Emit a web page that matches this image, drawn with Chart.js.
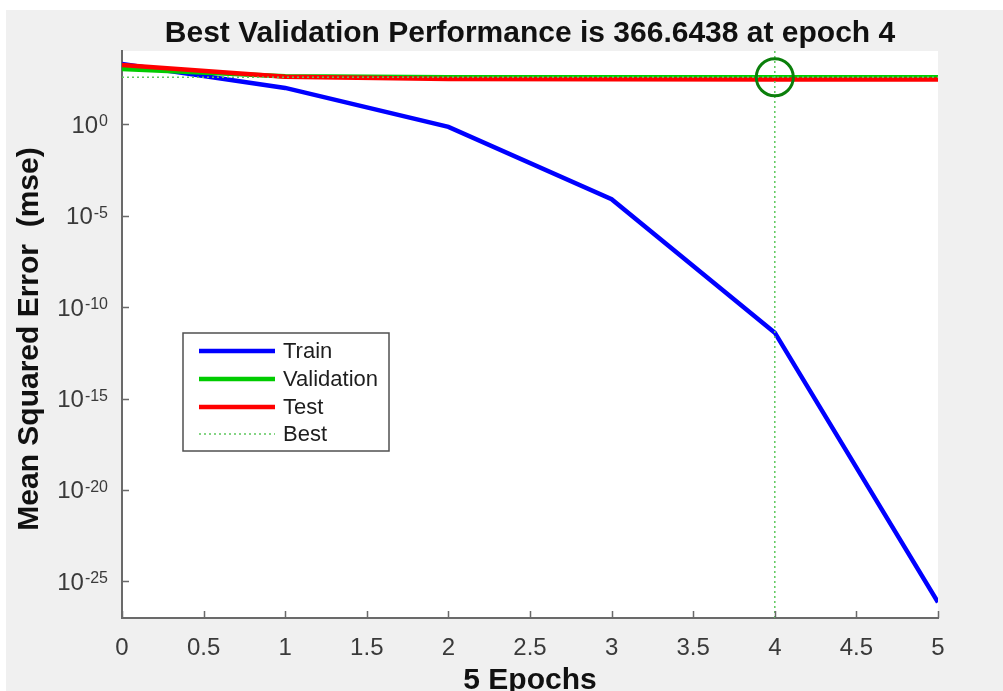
<!DOCTYPE html>
<html>
<head>
<meta charset="utf-8">
<script src="https://cdn.jsdelivr.net/npm/chart.js@4/dist/chart.umd.min.js"></script>
<style>
  html, body { margin: 0; padding: 0; background: #ffffff; overflow: hidden; }
  #wrap { width: 1003px; height: 691px; position: relative; }
</style>
</head>
<body>
<div id="wrap"><canvas id="perf" width="1003" height="691"></canvas></div>
<script>
// Training record: mean squared error per epoch
const epochs = [0, 1, 2, 3, 4, 5];
const trainMse = [1960, 96, 0.71, 7.9e-5, 4.0e-12, 7.2e-27];
const validationMse = [1050, 420, 372, 368, 366.6438, 368];
const testMse = [1730, 390, 290, 282, 280, 279];

const bestEpoch = 4;
const bestPerf = 366.6438;

// Axis limits and tick marks
const xLimits = [0, 5];
const yLimits = [1e-27, 1e4];
const xTicks = [0, 0.5, 1, 1.5, 2, 2.5, 3, 3.5, 4, 4.5, 5];
const xTickLabels = ['0', '0.5', '1', '1.5', '2', '2.5', '3', '3.5', '4', '4.5', '5'];
const yTickExponents = [0, -5, -10, -15, -20, -25];

const titleText = 'Best Validation Performance is ' + bestPerf.toFixed(4) + ' at epoch ' + bestEpoch;
const xTitle = '5 Epochs';
const yTitle = 'Mean Squared Error  (mse)';
const legendOrder = ['Train', 'Validation', 'Test', 'Best'];

const FONT = '"Liberation Sans", Arial, Helvetica, sans-serif';
const toPoints = vals => epochs.map((e, i) => ({ x: e, y: vals[i] }));

// Figure background, axes frame, ticks, text and legend
const figure = {
  id: 'figure',
  beforeDraw(chart) {
    const { ctx, chartArea: a, width, height } = chart;
    ctx.save();
    ctx.fillStyle = '#ffffff';
    ctx.fillRect(0, 0, width, height);
    ctx.fillStyle = '#f0f0f0';
    ctx.fillRect(6, 10, width - 6, height - 10);
    ctx.fillStyle = '#ffffff';
    ctx.fillRect(a.left, a.top, a.right - a.left, a.bottom - a.top);
    ctx.restore();
  },
  afterDraw(chart) {
    const { ctx, chartArea: a } = chart;
    const xs = chart.scales.x, ys = chart.scales.y;
    ctx.save();

    // inward tick marks
    ctx.strokeStyle = '#6a6a6a';
    ctx.lineWidth = 1.5;
    ctx.beginPath();
    xTicks.forEach(v => {
      const px = Math.round(xs.getPixelForValue(v)) + 0.5;
      ctx.moveTo(px, a.bottom);
      ctx.lineTo(px, a.bottom - 7);
    });
    yTickExponents.forEach(e => {
      const py = Math.round(ys.getPixelForValue(Math.pow(10, e))) + 0.5;
      ctx.moveTo(a.left, py);
      ctx.lineTo(a.left + 7, py);
    });
    ctx.stroke();

    // x tick labels
    ctx.fillStyle = '#3a3a3a';
    ctx.font = '24px ' + FONT;
    ctx.textAlign = 'center';
    ctx.textBaseline = 'alphabetic';
    xTicks.forEach((v, i) => {
      ctx.fillText(xTickLabels[i], xs.getPixelForValue(v), 655);
    });

    // y tick labels: 10 with a raised exponent
    const baseFont = '24px ' + FONT, supFont = '16px ' + FONT;
    const rightEdge = 108;
    ctx.textAlign = 'left';
    yTickExponents.forEach(e => {
      const py = ys.getPixelForValue(Math.pow(10, e));
      const exp = String(e);
      ctx.font = supFont;
      const wE = ctx.measureText(exp).width;
      ctx.font = baseFont;
      const wB = ctx.measureText('10').width;
      ctx.fillText('10', rightEdge - wE - wB - 1, py + 8.5);
      ctx.font = supFont;
      ctx.fillText(exp, rightEdge - wE, py + 2);
    });

    // title and axis titles
    ctx.fillStyle = '#111111';
    ctx.font = 'bold 30px ' + FONT;
    ctx.textAlign = 'center';
    const cx = (a.left + a.right) / 2;
    ctx.fillText(titleText, cx, 42);
    ctx.fillText(xTitle, cx, 689);
    ctx.save();
    ctx.translate(38, 339);
    ctx.rotate(-Math.PI / 2);
    ctx.fillText(yTitle, 0, 0);
    ctx.restore();

    // legend box
    const box = { x: 183, y: 333, w: 206, h: 118 };
    ctx.fillStyle = '#ffffff';
    ctx.fillRect(box.x, box.y, box.w, box.h);
    ctx.strokeStyle = '#505050';
    ctx.lineWidth = 1.5;
    ctx.strokeRect(box.x, box.y, box.w, box.h);
    const rowY = [351, 379, 407, 434];
    ctx.font = '22px ' + FONT;
    ctx.textAlign = 'left';
    ctx.textBaseline = 'middle';
    legendOrder.forEach((name, i) => {
      const ds = chart.data.datasets.find(d => d.label === name);
      ctx.save();
      ctx.strokeStyle = ds.borderColor;
      ctx.lineWidth = ds.borderWidth;
      ctx.setLineDash(ds.borderDash || []);
      ctx.beginPath();
      ctx.moveTo(199, rowY[i]);
      ctx.lineTo(275, rowY[i]);
      ctx.stroke();
      ctx.restore();
      ctx.fillStyle = '#1e1e1e';
      ctx.fillText(name, 283, rowY[i] + 1);
    });

    ctx.restore();
  }
};

new Chart(document.getElementById('perf'), {
  type: 'line',
  data: {
    datasets: [
      {
        label: 'Best marker',
        data: [{ x: bestEpoch, y: bestPerf }],
        showLine: false,
        pointRadius: 18.5,
        pointBorderWidth: 3,
        pointBorderColor: '#0b7f0b',
        pointBackgroundColor: 'rgba(0,0,0,0)',
        order: 0
      },
      {
        label: 'Best',
        data: [{ x: bestEpoch, y: yLimits[0] }, { x: bestEpoch, y: yLimits[1] }],
        borderColor: '#5cc85c',
        borderWidth: 1.5,
        borderDash: [2, 3],
        pointRadius: 0,
        order: 1
      },
      {
        label: 'Best level',
        data: [{ x: xLimits[0], y: bestPerf }, { x: xLimits[1], y: bestPerf }],
        borderColor: '#5cc85c',
        borderWidth: 1.5,
        borderDash: [2, 3],
        pointRadius: 0,
        order: 2
      },
      {
        label: 'Test',
        data: toPoints(testMse),
        borderColor: '#ff0000',
        borderWidth: 4.5,
        pointRadius: 0,
        order: 3
      },
      {
        label: 'Validation',
        data: toPoints(validationMse),
        borderColor: '#00cc00',
        borderWidth: 4.5,
        pointRadius: 0,
        order: 4
      },
      {
        label: 'Train',
        data: toPoints(trainMse),
        borderColor: '#0000ff',
        borderWidth: 4.5,
        pointRadius: 0,
        order: 5
      }
    ]
  },
  options: {
    responsive: false,
    devicePixelRatio: 1,
    animation: false,
    events: [],
    layout: { padding: { top: 51, right: 65, bottom: 0, left: 0 } },
    elements: { line: { tension: 0, fill: false } },
    plugins: {
      legend: { display: false },
      tooltip: { enabled: false },
      title: { display: false }
    },
    scales: {
      x: {
        type: 'linear',
        min: xLimits[0],
        max: xLimits[1],
        grid: { display: false },
        ticks: { display: false },
        border: { display: true, color: '#6a6a6a', width: 2 },
        afterFit(scale) { scale.height = 73; }
      },
      y: {
        type: 'logarithmic',
        min: yLimits[0],
        max: yLimits[1],
        grid: { display: false },
        ticks: { display: false },
        border: { display: true, color: '#6a6a6a', width: 2 },
        afterFit(scale) { scale.width = 122; }
      }
    }
  },
  plugins: [figure]
});
</script>
</body>
</html>
